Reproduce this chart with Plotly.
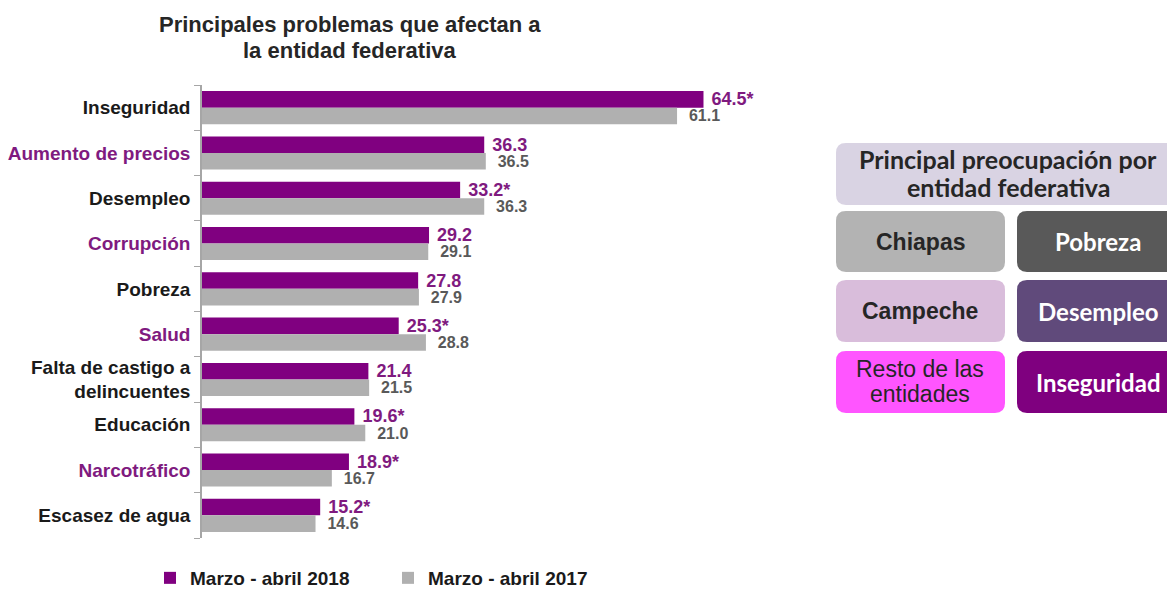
import plotly.graph_objects as go

# ---------------- data ----------------
categories = ["Inseguridad", "Aumento de precios", "Desempleo", "Corrupción", "Pobreza",
              "Salud", "Falta de castigo a<br>delincuentes", "Educación", "Narcotráfico",
              "Escasez de agua"]
label_colors = ["#1a1a1a", "#7F1A7F", "#1a1a1a", "#7F1A7F", "#1a1a1a",
                "#7F1A7F", "#1a1a1a", "#1a1a1a", "#7F1A7F", "#1a1a1a"]
values_2018 = [64.5, 36.3, 33.2, 29.2, 27.8, 25.3, 21.4, 19.6, 18.9, 15.2]
signif_2018 = [True, False, True, False, False, True, False, True, True, True]
values_2017 = [61.1, 36.5, 36.3, 29.1, 27.9, 28.8, 21.5, 21.0, 16.7, 14.6]
series_names = ["Marzo - abril 2018", "Marzo - abril 2017"]

title_lines = ["Principales problemas que afectan a", "la entidad federativa"]
panel_title_lines = ["Principal preocupación por", "entidad federativa"]
states = [["Chiapas"], ["Campeche"], ["Resto de las", "entidades"]]
concerns = ["Pobreza", "Desempleo", "Inseguridad"]

# ---------------- styles ----------------
PURPLE = "#800080"
GRAY = "#B0B0B0"
W, H = 1167, 590
L, R, T, B = 202, 824, 85, 538
PW, PH = R - L, B - T


def fx(px):
    return (px - L) / PW


def fy(py):
    return (B - py) / PH


def rrect(x0, y0, x1, y1, r=10):
    def p(x, y):
        return f"{fx(x):.5f},{fy(y):.5f}"
    return (f"M{p(x0 + r, y0)} L{p(x1 - r, y0)} Q{p(x1, y0)} {p(x1, y0 + r)} "
            f"L{p(x1, y1 - r)} Q{p(x1, y1)} {p(x1 - r, y1)} L{p(x0 + r, y1)} "
            f"Q{p(x0, y1)} {p(x0, y1 - r)} L{p(x0, y0 + r)} Q{p(x0, y0)} {p(x0 + r, y0)} Z")


def add_text(fig, text, px, py, font, xanchor="center"):
    fig.add_annotation(text=text, xref="paper", yref="paper", x=fx(px), y=fy(py),
                       xanchor=xanchor, yanchor="middle", showarrow=False, align="center",
                       font=font)


fig = go.Figure()
fig.add_trace(go.Bar(
    y=categories, x=values_2018, orientation="h", name=series_names[0],
    marker=dict(color=PURPLE, line=dict(width=0)),
    text=[" " + f"{v:.1f}" + ("*" if s else "") for v, s in zip(values_2018, signif_2018)],
    textposition="outside", cliponaxis=False, constraintext="none",
    textfont=dict(family="Liberation Sans", size=18, color="#7F1A7F", weight="bold"),
    hoverinfo="x+y",
))
fig.add_trace(go.Bar(
    y=categories, x=values_2017, orientation="h", name=series_names[1],
    marker=dict(color=GRAY, line=dict(width=0)),
    text=["  " + f"{v:.1f}" for v in values_2017],
    textposition="outside", cliponaxis=False, constraintext="none",
    textfont=dict(family="Liberation Sans", size=16, color="#595959", weight="bold"),
    hoverinfo="x+y",
))

ticktext = [f"<span style='color:{c}'><b>{t}</b></span>" for t, c in zip(categories, label_colors)]

fig.update_layout(
    width=W, height=H,
    margin=dict(l=L, r=W - R, t=T, b=H - B, pad=0, autoexpand=False),
    paper_bgcolor="white", plot_bgcolor="white",
    barmode="group", bargap=0.27, bargroupgap=0,
    font=dict(family="Liberation Sans", color="#1a1a1a"),
    xaxis=dict(range=[0, 80], visible=False, fixedrange=True),
    yaxis=dict(type="category", autorange="reversed", tickvals=categories, ticktext=ticktext,
               tickfont=dict(size=19, family="Liberation Sans"), automargin=False,
               showline=True, linecolor="#A6A6A6", linewidth=1.5, ticklabelstandoff=6,
               ticks="outside", tickson="boundaries", ticklen=6, tickcolor="#A6A6A6",
               showgrid=False, fixedrange=True),
    legend=dict(orientation="h", x=fx(150), y=fy(559), xanchor="left", yanchor="top",
                font=dict(size=19, family="Liberation Sans", color="#1a1a1a", weight="bold"),
                entrywidth=193, entrywidthmode="pixels", itemwidth=30,
                bgcolor="rgba(0,0,0,0)"),
    showlegend=True,
)

# title
title_font = dict(size=22, family="Liberation Sans", color="#262626")
add_text(fig, f"<b>{title_lines[0]}</b>", 350, 25, title_font)
add_text(fig, f"<b>{title_lines[1]}</b>", 350, 50, title_font)

# right panel
shapes = [dict(type="path", path=rrect(836, 143, 1185, 205), xref="paper", yref="paper",
               fillcolor="#D9D3E3", line=dict(width=0), layer="below")]
head_font = dict(size=25, family="Lato", color="#262626", weight="bold")
add_text(fig, panel_title_lines[0], 1008, 159, head_font)
add_text(fig, panel_title_lines[1], 1008, 187, head_font)

rows_y = [(211, 272), (280, 342), (351, 413)]
state_fill = ["#B3B3B3", "#D9BDDB", "#FF55FF"]
concern_fill = ["#595959", "#604A7B", "#7F007F"]
for i, (y0, y1) in enumerate(rows_y):
    shapes.append(dict(type="path", path=rrect(836, y0, 1005, y1), xref="paper", yref="paper",
                       fillcolor=state_fill[i], line=dict(width=0), layer="below"))
    shapes.append(dict(type="path", path=rrect(1017, y0, 1190, y1), xref="paper", yref="paper",
                       fillcolor=concern_fill[i], line=dict(width=0), layer="below"))
    cy = (y0 + y1) / 2
    lines = states[i]
    if len(lines) == 1:
        add_text(fig, f"<b>{lines[0]}</b>", 920, cy,
                 dict(size=23, family="Liberation Sans", color="#262626"))
    else:
        f2 = dict(size=23, family="Liberation Sans", color="#262626")
        add_text(fig, lines[0], 920, cy - 13, f2)
        add_text(fig, lines[1], 920, cy + 12, f2)
    add_text(fig, concerns[i], 1098, cy,
             dict(size=24, family="Lato", color="white", weight="bold"))

fig.update_layout(shapes=shapes)

fig.write_html("out.html", config={"displayModeBar": False},
               post_script="document.body.style.margin='0';document.body.style.padding='0';")
